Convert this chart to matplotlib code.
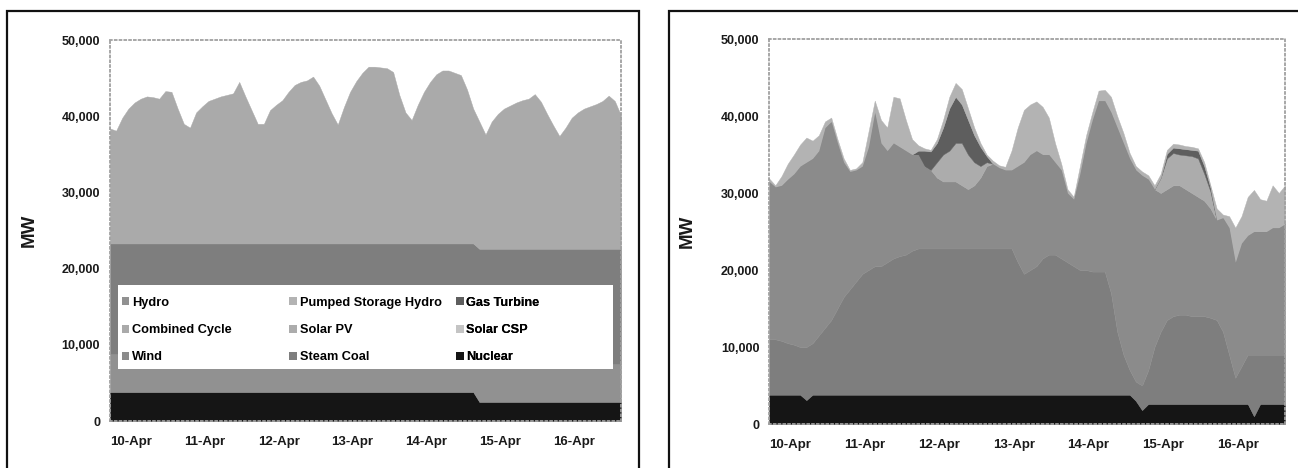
import matplotlib
matplotlib.use('Agg')
import numpy as np
import matplotlib.pyplot as plt
from matplotlib.patches import Patch, Rectangle

plt.rcParams['font.family'] = ['Liberation Sans', 'DejaVu Sans']

# time axis: one value every 2 hours, 10-Apr 00:00 .. 16-Apr 22:00
hours = list(range(0, 168, 2))
day_labels = ['10-Apr', '11-Apr', '12-Apr', '13-Apr', '14-Apr', '15-Apr', '16-Apr']
y_ticks = [0, 10000, 20000, 30000, 40000, 50000]

# legend order (as shown, row by row)
legend_rows = [['Hydro', 'Pumped Storage Hydro', 'Gas Turbine'],
               ['Combined Cycle', 'Solar PV', 'Solar CSP'],
               ['Wind', 'Steam Coal', 'Nuclear']]

colors = {
    'Hydro': '#919191',
    'Pumped Storage Hydro': '#b3b3b3',
    'Gas Turbine': '#5e5e5e',
    'Combined Cycle': '#aaaaaa',
    'Solar PV': '#acacac',
    'Solar CSP': '#c4c4c4',
    'Wind': '#8b8b8b',
    'Steam Coal': '#7e7e7e',
    'Nuclear': '#151515',
}

# ---- left chart (MW) ----
nuclear_a = [3800, 3800, 3800, 3800, 3800, 3800, 3800, 3800, 3800, 3800, 3800, 3800,
             3800, 3800, 3800, 3800, 3800, 3800, 3800, 3800, 3800, 3800, 3800, 3800,
             3800, 3800, 3800, 3800, 3800, 3800, 3800, 3800, 3800, 3800, 3800, 3800,
             3800, 3800, 3800, 3800, 3800, 3800, 3800, 3800, 3800, 3800, 3800, 3800,
             3800, 3800, 3800, 3800, 3800, 3800, 3800, 3800, 3800, 3800, 3800, 3800,
             2500, 2500, 2500, 2500, 2500, 2500, 2500, 2500, 2500, 2500, 2500, 2500,
             2500, 2500, 2500, 2500, 2500, 2500, 2500, 2500, 2500, 2500, 2500, 2500]
hydro_a = [5000, 5000, 5000, 5000, 5000, 5000, 5000, 5000, 5000, 5000, 5000, 5000,
           5000, 5000, 5000, 5000, 5000, 5000, 5000, 5000, 5000, 5000, 5000, 5000,
           5000, 5000, 5000, 5000, 5000, 5000, 5000, 5000, 5000, 5000, 5000, 5000,
           5000, 5000, 5000, 5000, 5000, 5000, 5000, 5000, 5000, 5000, 5000, 5000,
           5000, 5000, 5000, 5000, 5000, 5000, 5000, 5000, 5000, 5000, 5000, 5000,
           5000, 5000, 5000, 5000, 5000, 5000, 5000, 5000, 5000, 5000, 5000, 5000,
           5000, 5000, 5000, 5000, 5000, 5000, 5000, 5000, 5000, 5000, 5000, 5000]
coal_a = [14500, 14500, 14500, 14500, 14500, 14500, 14500, 14500, 14500, 14500, 14500, 14500,
          14500, 14500, 14500, 14500, 14500, 14500, 14500, 14500, 14500, 14500, 14500, 14500,
          14500, 14500, 14500, 14500, 14500, 14500, 14500, 14500, 14500, 14500, 14500, 14500,
          14500, 14500, 14500, 14500, 14500, 14500, 14500, 14500, 14500, 14500, 14500, 14500,
          14500, 14500, 14500, 14500, 14500, 14500, 14500, 14500, 14500, 14500, 14500, 14500,
          15100, 15100, 15100, 15100, 15100, 15100, 15100, 15100, 15100, 15100, 15100, 15100,
          15100, 15100, 15100, 15100, 15100, 15100, 15100, 15100, 15100, 15100, 15100, 15100]
cc_a = [15100, 14800, 16500, 17700, 18500, 19000, 19300, 19200, 19000, 20000, 19900, 17700,
        15700, 15200, 17200, 18000, 18700, 19000, 19300, 19500, 19700, 21200, 19300, 17500,
        15700, 15700, 17500, 18200, 18800, 19900, 20800, 21200, 21400, 21900, 20700, 18900,
        17100, 15600, 17900, 19900, 21300, 22400, 23200, 23200, 23100, 23000, 22500, 19500,
        17200, 16200, 18200, 19900, 21200, 22200, 22700, 22700, 22400, 22100, 20200, 17700,
        16700, 15000, 16700, 17700, 18400, 18800, 19200, 19500, 19700, 20300, 19300, 17700,
        16200, 14800, 15900, 17200, 17900, 18400, 18700, 19000, 19400, 20100, 19400, 17500]

# ---- right chart (MW) ----
nuclear_b = [3800, 3800, 3800, 3800, 3800, 3800, 3100, 3800, 3800, 3800, 3800, 3800,
             3800, 3800, 3800, 3800, 3800, 3800, 3800, 3800, 3800, 3800, 3800, 3800,
             3800, 3800, 3800, 3800, 3800, 3800, 3800, 3800, 3800, 3800, 3800, 3800,
             3800, 3800, 3800, 3800, 3800, 3800, 3800, 3800, 3800, 3800, 3800, 3800,
             3800, 3800, 3800, 3800, 3800, 3800, 3800, 3800, 3800, 3800, 3800, 3000,
             1800, 2600, 2600, 2600, 2600, 2600, 2600, 2600, 2600, 2600, 2600, 2600,
             2600, 2600, 2600, 2600, 2600, 2600, 1000, 2600, 2600, 2600, 2600, 2600]
coal_b = [7200, 7200, 7000, 6700, 6500, 6200, 6900, 6700, 7700, 8700, 9700, 11200,
          12700, 13700, 14700, 15700, 16200, 16700, 16700, 17200, 17700, 18000, 18200, 18700,
          19000, 19000, 19000, 19000, 19000, 19000, 19000, 19000, 19000, 19000, 19000, 19000,
          19000, 19000, 19000, 19000, 17200, 15700, 16200, 16700, 17700, 18200, 18200, 17700,
          17200, 16700, 16200, 16200, 16000, 16000, 16000, 13200, 8200, 5200, 3200, 2500,
          3200, 4400, 7400, 9400, 10900, 11400, 11600, 11600, 11400, 11400, 11400, 11200,
          10900, 9400, 6400, 3400, 4900, 6400, 8000, 6400, 6400, 6400, 6400, 6400]
wind_b = [20500, 19800, 20200, 21300, 22200, 23500, 24000, 24000, 24000, 26000, 25800, 21500,
          17500, 15300, 14500, 14000, 16000, 20000, 16000, 14500, 15000, 14200, 13500, 12500,
          12200, 10700, 10200, 9200, 8700, 8700, 8700, 8200, 7700, 8200, 9200, 10700,
          11000, 10500, 10200, 10200, 12500, 14500, 15000, 15000, 13500, 13000, 12000, 11500,
          9000, 8700, 12500, 16500, 19700, 22200, 22200, 23500, 26500, 27500, 27500, 27500,
          27300, 24800, 20500, 18000, 17000, 17000, 16800, 16300, 16000, 15500, 15000, 14200,
          13000, 14800, 16500, 15000, 16000, 15500, 16000, 16000, 16000, 16500, 16500, 17000]
pv_b = [0, 0, 0, 0, 0, 0, 0, 0, 0, 0, 0, 0,
        0, 0, 0, 0, 0, 0, 0, 0, 0, 0, 0, 0,
        0, 0, 0, 2000, 3500, 4000, 5000, 5500, 4500, 3000, 1500, 500,
        0, 0, 0, 0, 0, 0, 0, 0, 0, 0, 0, 0,
        0, 0, 0, 0, 0, 0, 0, 0, 0, 0, 0, 0,
        0, 0, 0, 2000, 4000, 4200, 4000, 4400, 4800, 5000, 3500, 2200,
        0, 0, 0, 0, 0, 0, 0, 0, 0, 0, 0, 0]
gt_b = [0, 0, 0, 0, 0, 0, 0, 0, 0, 0, 0, 0,
        0, 0, 0, 0, 0, 0, 0, 0, 0, 0, 0, 0,
        500, 2000, 2400, 2500, 3500, 5500, 6000, 5000, 4500, 3500, 2500, 800,
        0, 0, 0, 0, 0, 0, 0, 0, 0, 0, 0, 0,
        0, 0, 0, 0, 0, 0, 0, 0, 0, 0, 0, 0,
        0, 0, 0, 0, 600, 700, 800, 800, 800, 1000, 1000, 500,
        0, 0, 0, 0, 0, 0, 0, 0, 0, 0, 0, 0]
psh_b = [400, 200, 1200, 2000, 2500, 2800, 3200, 2300, 2000, 800, 500, 500,
         500, 200, 200, 500, 2000, 1500, 3000, 3000, 6000, 6300, 4000, 2000,
         700, 300, 200, 500, 1000, 1500, 1800, 2000, 1500, 1000, 500, 200,
         400, 300, 400, 2500, 5000, 6800, 6500, 6400, 6200, 4800, 2500, 800,
         500, 300, 1000, 1000, 1000, 1300, 1400, 2000, 1500, 1300, 700, 500,
         500, 500, 500, 500, 500, 500, 500, 400, 400, 300, 500, 300,
         1500, 400, 1500, 4500, 3500, 5000, 5400, 4200, 4000, 5500, 4500, 5000]

left_series = [('Nuclear', nuclear_a), ('Hydro', hydro_a),
               ('Steam Coal', coal_a), ('Combined Cycle', cc_a)]
right_series = [('Nuclear', nuclear_b), ('Steam Coal', coal_b), ('Wind', wind_b),
                ('Solar PV', pv_b), ('Gas Turbine', gt_b), ('Pumped Storage Hydro', psh_b)]


def draw_panel(ax, series):
    x = np.array(hours) / 24.0
    polys = ax.stackplot(x, *[v for _, v in series],
                         colors=[colors[n] for n, _ in series])
    for p, (n, _) in zip(polys, series):
        p.set_edgecolor(colors[n])
        p.set_linewidth(0.3)
    ax.set_xlim(0, x[-1])
    ax.set_ylim(0, 50000)
    ax.set_yticks(y_ticks)
    ax.set_yticklabels([f'{v:,}' for v in y_ticks], fontsize=9, fontweight='bold', color='#1a1a1a')
    ax.set_xticks(range(len(day_labels)))
    ax.set_xticklabels(day_labels, ha='left', fontsize=9.5, fontweight='bold', color='#1a1a1a')
    ax.tick_params(axis='y', length=0, pad=7)
    ax.tick_params(axis='x', length=0, pad=11)
    ax.set_ylabel('MW', fontsize=13.5, fontweight='bold', color='#1a1a1a')
    ax.yaxis.set_label_coords(-0.142, 0.5)
    for s in ax.spines.values():
        s.set_color('#a0a0a0')
        s.set_linestyle(':')
        s.set_linewidth(1.3)
        s.set_zorder(6)


fig = plt.figure(figsize=(12.98, 4.68), dpi=100)
ax1 = fig.add_axes([0.0847, 0.1004, 0.3937, 0.8141])
ax2 = fig.add_axes([0.5925, 0.094, 0.3975, 0.8226])
draw_panel(ax1, left_series)
draw_panel(ax2, right_series)

# legend inside the left chart: white box + three columns
ax1.add_patch(Rectangle((0.0156, 0.137), 0.968, 0.221, transform=ax1.transAxes,
                        facecolor='white', edgecolor='none', zorder=4))
col_x = [0.023, 0.351, 0.677]
for c in range(3):
    names = [legend_rows[r][c] for r in range(3)]
    handles = [Patch(facecolor=colors[n], edgecolor='none') for n in names]
    leg = ax1.legend(handles, names, loc='upper left', bbox_to_anchor=(col_x[c], 0.326),
                     frameon=False, handlelength=0.6, handleheight=0.6, handletextpad=0.2,
                     labelspacing=1.2, borderpad=0, borderaxespad=0,
                     prop={'weight': 'bold', 'size': 9.2})
    leg.set_zorder(5)
    ax1.add_artist(leg)

# outer frames around each chart
fig.add_artist(Rectangle((7 / 1298, -0.05), 632 / 1298, 0.05 + 1 - 11 / 468,
                         transform=fig.transFigure, fill=False, edgecolor='#111111',
                         linewidth=1.6, clip_on=False))
fig.add_artist(Rectangle((669 / 1298, -0.05), 0.6, 0.05 + 1 - 11 / 468,
                         transform=fig.transFigure, fill=False, edgecolor='#111111',
                         linewidth=1.6, clip_on=False))

fig.savefig('out.png', dpi=100)
